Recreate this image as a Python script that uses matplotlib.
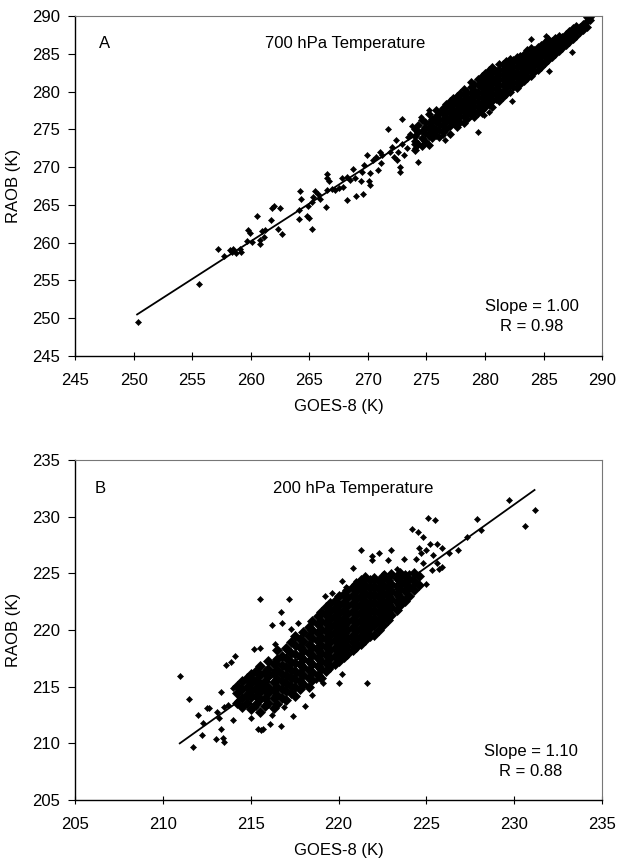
import matplotlib
matplotlib.use("Agg")
import matplotlib.pyplot as plt
import numpy as np

plt.rcParams['font.family'] = ['Liberation Sans', 'DejaVu Sans']

# ---- panel A : 700 hPa ----
a_ticks = [245, 250, 255, 260, 265, 270, 275, 280, 285, 290]
a_fit_x = [250.3, 289.0]
a_fit_y = [250.5, 289.1]

a_sparse = [
    (250.4, 249.5), (255.6, 254.5), (257.2, 259.1), (257.7, 258.2), (258.2, 259.0), (258.4, 258.7),
    (258.5, 259.2), (258.7, 258.6), (259.1, 259.2), (259.2, 258.75), (259.7, 260.2), (259.8, 261.7),
    (259.9, 261.3), (260.5, 263.5), (260.1, 260.1), (260.8, 259.8), (260.8, 260.4), (261.1, 260.7),
    (261.0, 261.6), (261.2, 261.7), (261.7, 263.0), (261.8, 264.6), (262.0, 264.8), (262.3, 261.8),
    (262.5, 264.6), (262.7, 261.2), (264.1, 264.3), (264.2, 266.8), (264.3, 265.8), (264.1, 263.1),
    (264.8, 263.5), (265.0, 263.3), (264.9, 264.8), (265.2, 265.4), (265.2, 261.8), (265.3, 266.0),
    (265.5, 266.8), (265.7, 266.5), (265.9, 265.8), (266.4, 264.7), (266.5, 267.0), (266.5, 269.1),
    (266.5, 268.5), (266.7, 268.2), (266.9, 267.1), (267.2, 266.95), (267.5, 267.2), (267.9, 267.3),
    (268.2, 265.7), (267.8, 268.6), (268.2, 268.7), (268.5, 268.3), (268.7, 269.8), (268.9, 268.6),
    (269.0, 266.2), (269.4, 268.1), (269.6, 266.5), (269.5, 269.4), (269.7, 270.3), (269.9, 271.6),
    (270.1, 268.1), (270.2, 267.6), (270.2, 269.2), (270.4, 270.9), (270.7, 271.4), (270.9, 269.6),
    (271.0, 272.0), (271.1, 270.5), (271.2, 271.6), (271.7, 275.0), (271.9, 272.0), (272.1, 272.7),
    (272.2, 271.4), (272.4, 273.6), (272.5, 270.9), (272.6, 272.0), (272.7, 270.0), (272.7, 269.4),
    (272.9, 276.3), (272.9, 273.1), (273.1, 271.6), (273.3, 272.5), (273.4, 274.0), (273.6, 274.4),
    (273.8, 275.5), (273.9, 273.1), (274.0, 272.5), (274.3, 270.7), (274.5, 276.6), (275.2, 277.5),
    (276.3, 277.5), (276.9, 278.4), (277.5, 278.8), (279.4, 274.7), (279.7, 277.0), (279.9, 276.9),
    (280.3, 277.3), (282.3, 278.8), (283.9, 287.0), (285.2, 287.3), (285.7, 286.6), (287.4, 285.2),
    (285.5, 282.7), (276.6, 273.6), (276.4, 274.2), (277.6, 275.5),
]

a_core = [
    (274.0, [272.3, 273.4, 274.1, 275.0]),
    (274.3, [273.0, 274.6, 275.6]),
    (274.6, [272.8, 273.9, 274.8, 276.2]),
    (274.9, [273.5, 274.5, 275.3, 276.0]),
    (275.2, [272.9, 274.1, 275.0, 275.8, 277.0]),
    (275.5, [273.8, 274.7, 275.4, 276.3]),
    (275.8, [274.2, 275.1, 275.9, 276.7, 277.6]),
    (276.1, [274.0, 274.9, 275.7, 276.4, 277.2]),
    (276.4, [274.6, 275.4, 276.2, 277.0, 277.8]),
    (276.7, [275.0, 275.9, 276.6, 277.4, 278.3]),
    (277.0, [274.4, 275.5, 276.3, 277.1, 277.9, 278.7]),
    (277.3, [275.8, 276.6, 277.4, 278.2, 279.1]),
    (277.6, [275.3, 276.2, 277.0, 277.7, 278.5, 279.4]),
    (277.9, [276.0, 276.8, 277.5, 278.3, 279.0, 279.8]),
    (278.2, [275.8, 276.6, 277.3, 278.0, 278.7, 279.5, 280.3]),
    (278.5, [276.4, 277.1, 277.9, 278.6, 279.3, 280.0]),
    (278.8, [276.9, 277.6, 278.3, 279.0, 279.8, 280.6, 281.3]),
    (279.1, [276.6, 277.4, 278.1, 278.8, 279.5, 280.2, 281.0]),
    (279.4, [277.2, 277.9, 278.6, 279.3, 280.0, 280.8, 281.6]),
    (279.7, [277.6, 278.4, 279.1, 279.8, 280.5, 281.2, 282.0]),
    (280.0, [277.9, 278.8, 279.5, 280.2, 280.9, 281.6, 282.4]),
    (280.3, [278.3, 279.1, 279.8, 280.5, 281.2, 282.0, 282.8]),
    (280.6, [278.0, 278.8, 279.6, 280.3, 281.0, 281.7, 282.5, 283.2]),
    (280.9, [279.0, 279.8, 280.5, 281.2, 281.9, 282.7]),
    (281.2, [278.7, 279.5, 280.2, 280.9, 281.6, 282.3, 283.0, 283.7]),
    (281.5, [279.3, 280.0, 280.8, 281.5, 282.2, 282.9, 283.6]),
    (281.8, [279.7, 280.5, 281.2, 281.9, 282.6, 283.3, 284.0]),
    (282.1, [280.0, 280.8, 281.5, 282.2, 282.9, 283.6, 284.3]),
    (282.4, [280.6, 281.3, 282.0, 282.7, 283.4, 284.2]),
    (282.7, [280.4, 281.1, 281.8, 282.5, 283.2, 283.9, 284.6]),
    (283.0, [281.0, 281.8, 282.5, 283.2, 283.9, 284.7]),
    (283.3, [281.4, 282.2, 282.9, 283.6, 284.3, 285.0]),
    (283.6, [281.8, 282.6, 283.3, 284.0, 284.7, 285.5]),
    (283.9, [282.1, 282.9, 283.6, 284.3, 285.0, 285.8]),
    (284.2, [282.6, 283.4, 284.1, 284.8, 285.5]),
    (284.5, [282.9, 283.7, 284.4, 285.1, 285.9]),
    (284.8, [283.3, 284.1, 284.8, 285.5, 286.2]),
    (285.1, [283.8, 284.5, 285.2, 285.9, 286.6]),
    (285.4, [284.2, 284.9, 285.6, 286.3, 287.0]),
    (285.7, [284.5, 285.3, 286.0, 286.7]),
    (286.0, [284.9, 285.7, 286.4, 287.1]),
    (286.3, [285.3, 286.0, 286.7, 287.4]),
    (286.6, [285.8, 286.5, 287.2]),
    (286.9, [286.1, 286.9, 287.6]),
    (287.2, [286.6, 287.3, 288.0]),
    (287.5, [287.0, 287.7, 288.4]),
    (287.8, [287.4, 288.1, 288.7]),
    (288.1, [287.9, 288.5]),
    (288.4, [288.2, 288.9]),
    (288.7, [288.6, 289.3, 289.8]),
    (289.0, [289.4, 289.8]),
]

# ---- panel B : 200 hPa ----
b_ticks = [205, 210, 215, 220, 225, 230, 235]
b_fit_x = [210.96, 231.15]
b_fit_y = [210.0, 232.35]

b_sparse = [
    (211.0, 215.9), (211.5, 213.9), (211.7, 209.7), (212.0, 212.5), (212.2, 210.7), (212.3, 211.8),
    (212.5, 213.1), (212.6, 213.1), (213.0, 210.4), (213.1, 212.8), (213.2, 212.2), (213.3, 214.5),
    (213.3, 211.3), (213.4, 210.5), (213.5, 210.1), (213.5, 213.2), (213.6, 216.9), (213.7, 213.4),
    (213.9, 217.2), (214.0, 214.9), (214.0, 212.1), (214.1, 217.7), (214.2, 213.7), (214.3, 214.9),
    (214.4, 213.9), (214.6, 215.5), (214.8, 214.4), (215.0, 212.2), (215.1, 215.8), (215.2, 218.3),
    (215.3, 213.2), (215.4, 211.3), (215.5, 218.4), (215.5, 222.7), (215.6, 211.2), (215.7, 211.3),
    (215.8, 215.0), (216.1, 211.7), (216.2, 220.4), (216.2, 212.5), (216.4, 218.8), (216.5, 217.1),
    (216.7, 221.6), (216.7, 211.5), (216.8, 220.6), (216.9, 213.2), (217.0, 218.2), (217.2, 222.7),
    (217.3, 220.1), (217.4, 212.4), (217.5, 216.0), (217.6, 218.5), (217.7, 220.6), (217.8, 214.7),
    (218.1, 213.3), (218.5, 214.3), (218.7, 215.6), (218.8, 220.6), (219.1, 215.3), (219.2, 223.0),
    (219.5, 216.6), (219.6, 223.3), (219.8, 222.6), (220.0, 215.3), (220.2, 216.1), (220.2, 224.3),
    (220.4, 223.8), (220.8, 225.5), (221.0, 224.3), (221.3, 227.1), (221.6, 215.3), (221.9, 226.2),
    (221.9, 226.5), (222.3, 226.8), (222.6, 225.0), (222.8, 226.2), (223.0, 227.1), (223.3, 225.4),
    (223.4, 224.7), (223.7, 226.3), (223.8, 225.0), (224.0, 225.0), (224.2, 228.9), (224.2, 223.9),
    (224.4, 226.3), (224.5, 228.6), (224.6, 227.2), (224.7, 226.8), (224.8, 228.2), (224.8, 225.9),
    (225.0, 227.1), (225.0, 224.1), (225.1, 229.9), (225.2, 227.6), (225.3, 225.3), (225.4, 226.6),
    (225.5, 229.7), (225.6, 227.6), (225.6, 225.9), (225.7, 225.4), (225.9, 227.2), (225.9, 225.6),
    (226.3, 226.8), (226.8, 227.1), (227.3, 228.2), (227.9, 229.8), (228.1, 228.8), (229.7, 231.5),
    (230.6, 229.2), (231.2, 230.6),
]

b_core = [
    (214.2, [213.6, 214.4, 215.1]),
    (214.5, [213.2, 214.0, 214.8, 215.5]),
    (214.8, [213.6, 214.3, 215.0, 215.8]),
    (215.0, [213.0, 214.1, 214.6, 215.3, 216.1]),
    (215.3, [213.5, 214.2, 214.9, 215.6, 216.4]),
    (215.5, [212.8, 213.9, 214.5, 215.2, 216.0, 216.8]),
    (215.8, [213.3, 214.0, 214.8, 215.5, 216.3]),
    (216.0, [213.6, 214.4, 215.0, 215.9, 216.6, 217.3]),
    (216.3, [213.1, 214.0, 214.7, 215.4, 216.2, 217.0]),
    (216.5, [213.5, 214.3, 215.0, 215.7, 216.5, 217.4, 218.2]),
    (216.8, [214.0, 214.8, 215.5, 216.1, 216.9, 217.7]),
    (217.0, [213.8, 214.6, 215.3, 216.0, 216.7, 217.5, 218.4]),
    (217.3, [214.4, 215.1, 215.8, 216.5, 217.2, 218.0, 218.9]),
    (217.5, [214.2, 215.0, 215.7, 216.4, 217.1, 217.9, 218.7, 219.5]),
    (217.8, [214.8, 215.5, 216.2, 217.0, 217.7, 218.5, 219.2]),
    (218.0, [215.2, 216.0, 216.7, 217.4, 218.2, 219.0, 219.8]),
    (218.3, [215.0, 215.8, 216.5, 217.3, 218.0, 218.7, 219.5, 220.3]),
    (218.5, [215.6, 216.3, 217.0, 217.8, 218.5, 219.3, 220.0, 220.8]),
    (218.8, [216.0, 216.8, 217.5, 218.2, 219.0, 219.7, 220.5, 221.2]),
    (219.0, [215.8, 216.6, 217.3, 218.0, 218.7, 219.4, 220.1, 220.8, 221.6]),
    (219.3, [216.4, 217.1, 217.8, 218.5, 219.2, 219.9, 220.6, 221.3, 222.0]),
    (219.5, [216.8, 217.5, 218.2, 218.9, 219.6, 220.3, 221.0, 221.7, 222.4]),
    (219.8, [217.0, 217.7, 218.4, 219.1, 219.8, 220.5, 221.2, 221.9, 222.6]),
    (220.0, [217.3, 218.0, 218.7, 219.4, 220.1, 220.8, 221.5, 222.2, 223.0]),
    (220.3, [217.6, 218.3, 219.0, 219.7, 220.4, 221.1, 221.8, 222.5, 223.2]),
    (220.5, [217.9, 218.6, 219.3, 220.0, 220.7, 221.4, 222.1, 222.8, 223.5]),
    (220.8, [218.2, 218.9, 219.6, 220.3, 221.0, 221.7, 222.4, 223.1, 223.8]),
    (221.0, [218.5, 219.2, 219.9, 220.6, 221.3, 222.0, 222.7, 223.4, 224.1]),
    (221.3, [218.8, 219.5, 220.2, 220.9, 221.6, 222.3, 223.0, 223.7, 224.4]),
    (221.5, [219.1, 219.8, 220.5, 221.2, 221.9, 222.6, 223.3, 224.0, 224.7]),
    (221.8, [219.5, 220.2, 220.9, 221.6, 222.3, 223.0, 223.7, 224.4]),
    (222.0, [219.6, 220.4, 221.1, 221.8, 222.5, 223.2, 223.9, 224.6]),
    (222.3, [220.0, 220.8, 221.5, 222.2, 222.9, 223.6, 224.3]),
    (222.5, [220.4, 221.2, 221.9, 222.6, 223.3, 224.0, 224.8]),
    (222.8, [220.9, 221.6, 222.3, 223.0, 223.7, 224.4]),
    (223.0, [221.3, 222.0, 222.7, 223.4, 224.1, 224.9]),
    (223.3, [221.8, 222.5, 223.2, 223.9, 224.6]),
    (223.5, [222.2, 222.9, 223.6, 224.3, 225.0]),
    (223.8, [222.6, 223.4, 224.1, 224.8]),
    (224.0, [223.0, 223.8, 224.5]),
    (224.3, [223.5, 224.3, 225.0]),
    (224.6, [224.0, 224.8]),
]


def unpack_core(core):
    xs, ys = [], []
    for cx, col in core:
        for cy in col:
            xs.append(cx)
            ys.append(cy)
    return np.array(xs), np.array(ys)


def panel(ax, sparse, core, fit_x, fit_y, ticks, letter, title, slope, r, pos, core_ms):
    sx = np.array([p[0] for p in sparse])
    sy = np.array([p[1] for p in sparse])
    cx, cy = unpack_core(core)
    # dense cloud: overlapping points merge into a solid mass
    ax.plot(cx, cy, 'D', color='black', ms=core_ms, mew=0.5, mec='black', zorder=2)
    ax.plot(sx, sy, 'D', color='black', ms=3.1, mew=0.4, mec='black', zorder=2)
    ax.plot(fit_x, fit_y, color='black', lw=1.3, zorder=3)
    ax.set_xlim(ticks[0], ticks[-1])
    ax.set_ylim(ticks[0], ticks[-1])
    ax.set_xticks(ticks)
    ax.set_yticks(ticks)
    ax.tick_params(axis='x', direction='inout', length=6, width=0.8, labelsize=12, pad=9)
    ax.tick_params(axis='y', direction='out', length=5, width=0.8, labelsize=12, pad=6)
    for s in ['left', 'bottom']:
        ax.spines[s].set_color('black')
        ax.spines[s].set_linewidth(1.0)
    for s in ['top', 'right']:
        ax.spines[s].set_color('#777777')
        ax.spines[s].set_linewidth(0.8)
    ax.set_xlabel('GOES-8 (K)', fontsize=12, labelpad=8)
    ax.set_ylabel('RAOB (K)', fontsize=12, labelpad=8)
    ax.text(pos[0], pos[1], letter, transform=ax.transAxes, fontsize=12, ha='center', va='center')
    ax.text(pos[2], pos[1], title, transform=ax.transAxes, fontsize=12, ha='center', va='center')
    ax.text(pos[3], pos[4], 'Slope = ' + slope, transform=ax.transAxes, fontsize=12, ha='center', va='center')
    ax.text(pos[3], pos[5], 'R = ' + r, transform=ax.transAxes, fontsize=12, ha='center', va='center')


fig = plt.figure(figsize=(6.18, 8.61), dpi=100)
axA = fig.add_axes([0.1214, 0.5865, 0.853, 0.395])
axB = fig.add_axes([0.1214, 0.0708, 0.853, 0.395])

panel(axA, a_sparse, a_core, a_fit_x, a_fit_y, a_ticks, 'A', '700 hPa Temperature', '1.00', '0.98',
      (0.056, 0.92, 0.512, 0.867, 0.145, 0.086), 4.2)
panel(axB, b_sparse, b_core, b_fit_x, b_fit_y, b_ticks, 'B', '200 hPa Temperature', '1.10', '0.88',
      (0.048, 0.915, 0.527, 0.864, 0.142, 0.083), 4.8)

fig.savefig('out.png', dpi=100)
